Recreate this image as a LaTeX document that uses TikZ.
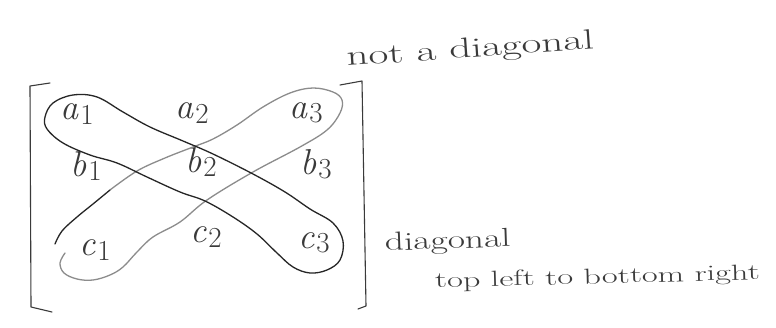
\documentclass[tikz,border=0pt]{standalone}
\usepackage{fontspec}
\definecolor{pencil}{HTML}{262626}
\definecolor{lightpencil}{HTML}{8C8C8C}
\definecolor{inkgray}{HTML}{3A3A3A}
\newcommand{\ent}[2]{{\itshape #1}\hspace{2pt}\raisebox{-0.12em}{\fontsize{29}{30}\selectfont #2}}
\begin{document}
\begin{tikzpicture}[x=1pt,y=-1pt,
  entry/.style={inner sep=0pt, text=inkgray, font=\fontsize{36}{40}\selectfont},
  hand/.style={inner sep=0pt, anchor=base west, text=inkgray},
  darkloop/.style={draw=pencil, line width=1.3pt, line cap=round, line join=round},
  greyloop/.style={draw=lightpencil, line width=1.3pt, line cap=round, line join=round},
  brack/.style={draw=inkgray, line width=1.1pt, line cap=round, line join=round}]
\useasboundingbox (0,0) rectangle (776,328);
\fill[white] (0,0) rectangle (776,328);

% brackets
\draw[brack] (50,83) -- (30,86) -- (31,307) -- (52,312);
\draw[brack] (340,85) -- (362,81) -- (366,306) -- (358,309);

% matrix entries
\node[entry] (a1) at (77,114) {\ent{a}{1}};
\node[entry] (a2) at (192,113) {\ent{a}{2}};
\node[entry] (a3) at (306,113) {\ent{a}{3}};
\node[entry] (b1) at (86,166) {\ent{b}{1}};
\node[entry] (b2) at (201,162) {\ent{b}{2}};
\node[entry] (b3) at (316,164) {\ent{b}{3}};
\node[entry] (c1) at (95,250) {\ent{c}{1}};
\node[entry] (c2) at (206,237) {\ent{c}{2}};
\node[entry] (c3) at (314,243) {\ent{c}{3}};

% anti-diagonal loop (light pencil, dark stroke at lower left)
\draw[greyloop] plot[smooth, tension=0.6] coordinates {
  (65,253) (60,263) (64,273) (77,279) (93,280) (110,275) (123,267)
  (137,252) (153,237) (180,222) (207,200) (253,172) (300,147) (327,130)
  (340,113) (342,100) (333,92) (313,88) (290,93) (263,107) (237,125)
  (213,139) (193,147) (165,158) (137,171) (110,190)};
\draw[darkloop] plot[smooth, tension=0.6] coordinates {
  (110,190) (93,204) (77,217) (62,231) (55,244)};

% main diagonal loop (dark pencil)
\draw[darkloop] plot[smooth cycle, tension=0.6] coordinates {
  (45,117) (53,103) (73,95) (97,97) (123,112) (150,127) (183,141)
  (213,154) (253,174) (285,192) (310,209) (333,223) (343,241) (340,260)
  (327,270) (310,273) (293,267) (277,253) (257,234) (233,217) (205,201)
  (180,192) (147,177) (117,163) (90,155) (63,143) (47,129)};

% handwritten notes
\node[hand, rotate=4] (nd) at (347,66)
  {\fontsize{28}{30}\selectfont\scalebox{1.54}[1]{not a diagonal}};
\node[hand, rotate=2] (dg) at (385,251)
  {\fontsize{26}{28}\selectfont\scalebox{1.44}[1]{diagonal}};
\node[hand, rotate=1.5] (tl) at (435,288)
  {\fontsize{22}{24}\selectfont\scalebox{1.56}[1]{top left to bottom right}};
\end{tikzpicture}
\end{document}
